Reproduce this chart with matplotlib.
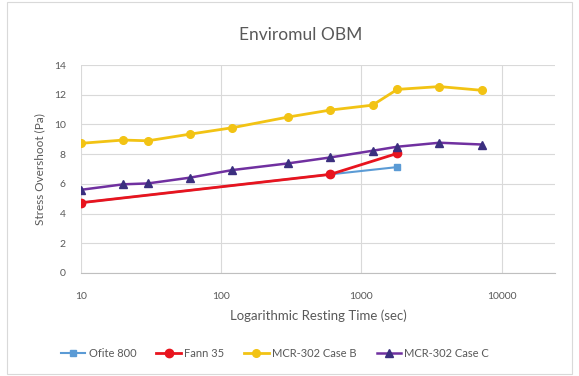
import matplotlib
matplotlib.use("Agg")
import matplotlib.pyplot as plt
from matplotlib.patches import Rectangle

plt.rcParams['font.family'] = ['Lato', 'DejaVu Sans']

ofite_x = [10, 600, 1800]
ofite_y = [4.73, 6.64, 7.13]
fann_x = [10, 600, 1800]
fann_y = [4.73, 6.64, 8.05]
caseb_x = [10, 20, 30, 60, 120, 300, 600, 1200, 1800, 3600, 7200]
caseb_y = [8.73, 8.95, 8.9, 9.35, 9.78, 10.5, 10.97, 11.3, 12.36, 12.55, 12.3]
casec_x = [10, 20, 30, 60, 120, 300, 600, 1200, 1800, 3600, 7200]
casec_y = [5.6, 5.97, 6.03, 6.42, 6.93, 7.38, 7.78, 8.23, 8.5, 8.77, 8.65]

yticks = [0, 2, 4, 6, 8, 10, 12, 14]
xticks = [10, 100, 1000, 10000]
xticklabels = ['10', '100', '1000', '10000']

fig = plt.figure(figsize=(5.79, 3.76), dpi=100)
fig.patch.set_facecolor('white')
fig.add_artist(Rectangle((0.012, 0.005), 0.976, 0.99, transform=fig.transFigure,
                         fill=False, edgecolor='#d9d9d9', linewidth=0.8))

ax = fig.add_axes([0.14, 0.274, 0.8185, 0.553])
ax.set_xscale('log')
ax.set_xlim(10, 24000)
ax.set_ylim(0, 14)
ax.set_yticks(yticks)
ax.set_xticks(xticks)
ax.set_xticklabels(xticklabels)
ax.xaxis.set_minor_locator(matplotlib.ticker.NullLocator())
ax.grid(True, color='#d9d9d9', linewidth=0.8)
ax.set_axisbelow(True)
for s in ['top', 'right', 'left']:
    ax.spines[s].set_visible(False)
ax.spines['bottom'].set_color('#bfbfbf')
ax.tick_params(axis='y', length=0, labelsize=7.5, labelcolor='#595959', pad=11)
ax.tick_params(axis='x', length=0, labelsize=7.5, labelcolor='#595959', pad=14)

ax.plot(ofite_x, ofite_y, color='#5B9BD5', marker='s', markersize=5, linewidth=1.5, label='Ofite 800')
ax.plot(fann_x, fann_y, color='#E8141E', marker='o', markersize=6, linewidth=2, label='Fann 35')
ax.plot(caseb_x, caseb_y, color='#F2C314', marker='o', markersize=5.5, linewidth=2, label='MCR-302 Case B')
ax.plot(casec_x, casec_y, color='#7030A0', marker='^', markersize=5.5, markerfacecolor='#3B2F7F',
        markeredgecolor='#3B2F7F', linewidth=1.8, label='MCR-302 Case C')

fig.text(0.52, 0.907, 'Enviromul OBM', fontsize=12.5, color='#595959', ha='center', va='center')
ax.set_xlabel('Logarithmic Resting Time (sec)', fontsize=9.5, color='#595959', labelpad=6)
ax.set_ylabel('Stress Overshoot (Pa)', fontsize=8.5, color='#595959', labelpad=6)

fig.legend(loc='center', bbox_to_anchor=(0.475, 0.061), ncol=4, frameon=False,
           fontsize=8, labelcolor='#595959', handlelength=2.2, handletextpad=0.3,
           columnspacing=1.8)

fig.savefig('out.png', dpi=100)
